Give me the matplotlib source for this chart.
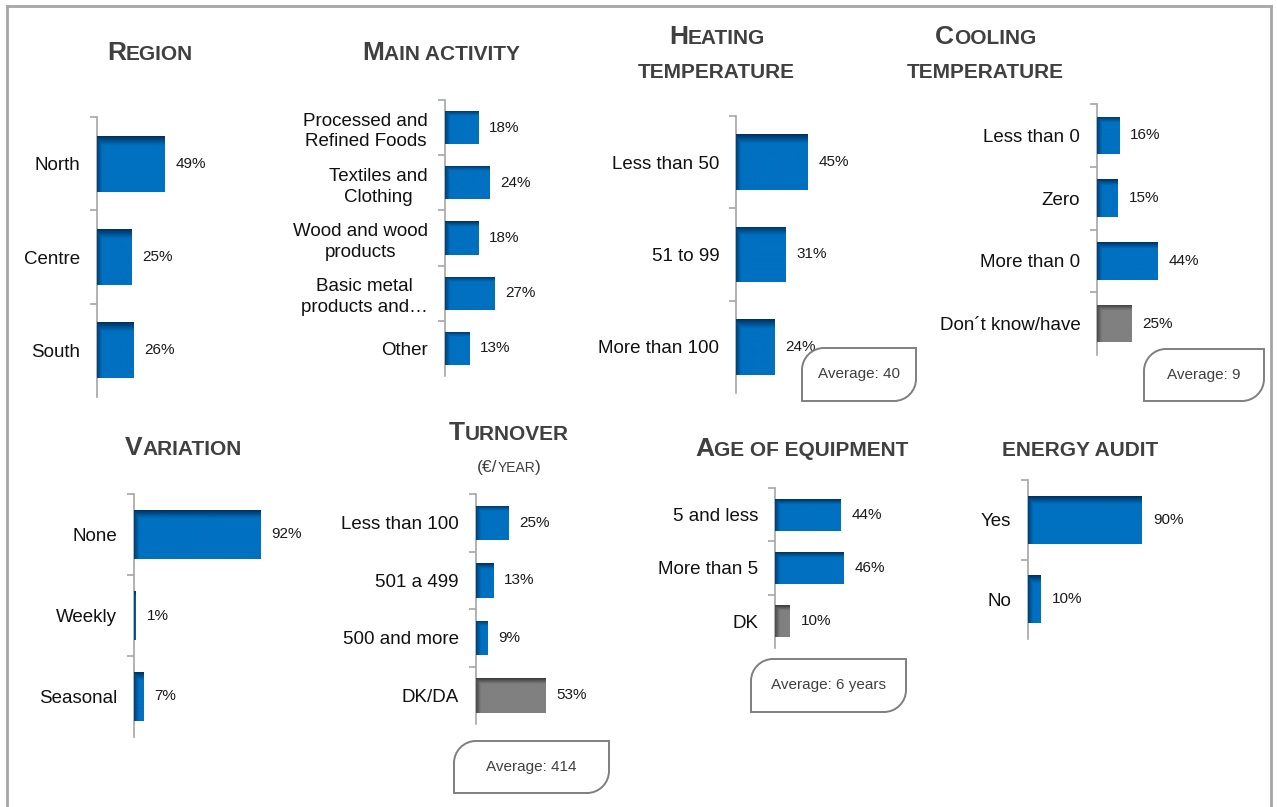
import numpy as np
import matplotlib
matplotlib.use('Agg')
import matplotlib.pyplot as plt
from matplotlib import font_manager
from matplotlib.colors import to_rgb
from matplotlib.lines import Line2D
from matplotlib.offsetbox import TextArea, HPacker, AnnotationBbox
from matplotlib.patches import PathPatch
from matplotlib.path import Path

W, H = 1277, 807

# survey results (% of respondents)
region_labels = ['North', 'Centre', 'South']
region_values = [49, 25, 26]

activity_labels = ['Processed and\nRefined Foods', 'Textiles and\nClothing',
                   'Wood and wood\nproducts', 'Basic metal\nproducts and…', 'Other']
activity_values = [18, 24, 18, 27, 13]

heating_labels = ['Less than 50', '51 to 99', 'More than 100']
heating_values = [45, 31, 24]

cooling_labels = ['Less than 0', 'Zero', 'More than 0', 'Don´t know/have']
cooling_values = [16, 15, 44, 25]

variation_labels = ['None', 'Weekly', 'Seasonal']
variation_values = [92, 1, 7]

turnover_labels = ['Less than 100', '501 a 499', '500 and more', 'DK/DA']
turnover_values = [25, 13, 9, 53]

age_labels = ['5 and less', 'More than 5', 'DK']
age_values = [44, 46, 10]

audit_labels = ['Yes', 'No']
audit_values = [90, 10]

# "don't know" answers are drawn in grey
unknown_labels = ['Don´t know/have', 'DK/DA', 'DK']

heating_average = '40'
cooling_average = '9'
turnover_average = '414'
age_average = '6 years'

installed = {f.name for f in font_manager.fontManager.ttflist}
BODY = 'Liberation Sans' if 'Liberation Sans' in installed else 'DejaVu Sans'
plt.rcParams['font.family'] = [BODY, 'DejaVu Sans']

BLUE = '#0070C0'
BLUE_DARK = '#00325F'
GREY = '#808080'
GREY_DARK = '#3A3A3A'
AXIS = '#A6A6A6'
TITLE = '#404040'

fig = plt.figure(figsize=(W / 100, H / 100), dpi=100)


def fx(x):
    return x / W


def fy(y):
    return 1 - y / H


def shade(ax, bars, colors, px_per):
    # darker top and left edges like the Excel bevel
    for r, (base, dark) in zip(bars, colors):
        x0, y0, w, h = r.get_x(), r.get_y(), r.get_width(), r.get_height()
        nx, ny = 200, 60
        u = np.linspace(0, 1, nx)[None, :]
        v = np.linspace(0, 1, ny)[:, None]
        left = min(1.0, (5 / px_per) / max(w, 1e-6))
        t_top = np.clip(1 - v / 0.16, 0, 1)
        t_left = np.clip(1 - u / left, 0, 1)
        t = np.maximum(t_top, t_left * 0.8)[..., None]
        img = np.array(to_rgb(base)) * (1 - t) + np.array(to_rgb(dark)) * t
        im = ax.imshow(img, extent=(x0, x0 + w, y0 + h, y0), origin='upper',
                       aspect='auto', interpolation='bilinear', zorder=3)
        im.set_clip_path(r)


def panel(left, top, bottom, px_per, labels, values, width=190):
    ax = fig.add_axes([fx(left), fy(bottom), width / W, (bottom - top) / H])
    n = len(labels)
    y = np.arange(n)
    colors = [(GREY, GREY_DARK) if l in unknown_labels else (BLUE, BLUE_DARK) for l in labels]
    bars = ax.barh(y, values, height=0.6, color=[c[0] for c in colors], zorder=2)
    shade(ax, bars, colors, px_per)
    ax.bar_label(bars, labels=[f'{v}%' for v in values], padding=8,
                 fontsize=11, color='#1A1A1A')
    ax.set_xlim(0, width / px_per)
    ax.set_ylim(n - 0.5, -0.5)
    for s in ['top', 'right', 'bottom']:
        ax.spines[s].set_visible(False)
    ax.spines['left'].set_color(AXIS)
    ax.spines['left'].set_linewidth(1.2)
    ax.set_xticks([])
    # tick marks between categories (none at the very bottom)
    ax.set_yticks(np.arange(n) - 0.5)
    ax.set_yticklabels([])
    ax.tick_params(axis='y', which='major', length=5, width=1.2, color=AXIS, direction='out')
    ax.set_yticks(y, labels, minor=True)
    ax.tick_params(axis='y', which='minor', length=0, pad=12, labelsize=13.5, labelcolor='#111111')
    for t in ax.get_yticklabels(minor=True):
        t.set_multialignment('center')
        t.set_linespacing(1.3)
    ax.patch.set_visible(False)
    return ax


def smallcaps(text, big_first=True, big=19, small=15):
    parts = []
    if big_first:
        parts.append((text[0].upper(), big))
        text = text[1:]
    parts.append((text.upper(), small))
    return parts


def title(cx, cy, parts, weight='bold'):
    boxes = [TextArea(t, textprops=dict(fontsize=s, fontweight=weight, color=TITLE))
             for t, s in parts]
    pack = HPacker(children=boxes, align='baseline', pad=0, sep=0)
    ab = AnnotationBbox(pack, (fx(cx), fy(cy)), xycoords='figure fraction',
                        frameon=False, box_alignment=(0.5, 0.5), pad=0)
    fig.add_artist(ab)


def avg_box(x0, y0, x1, y1, value, r=22):
    k = 0.5523 * r
    pts = [(x0, y0 + r), (x0, y0 + r - k), (x0 + r - k, y0), (x0 + r, y0),
           (x1, y0), (x1, y1 - r), (x1, y1 - r + k), (x1 - r + k, y1), (x1 - r, y1),
           (x0, y1), (x0, y0 + r)]
    codes = [Path.MOVETO, Path.CURVE4, Path.CURVE4, Path.CURVE4,
             Path.LINETO, Path.LINETO, Path.CURVE4, Path.CURVE4, Path.CURVE4,
             Path.LINETO, Path.CLOSEPOLY]
    path = Path([(fx(a), fy(b)) for a, b in pts], codes)
    fig.add_artist(PathPatch(path, transform=fig.transFigure, fc='none',
                             ec='#7F7F7F', lw=1.4))
    fig.text(fx((x0 + x1) / 2), fy((y0 + y1) / 2), f'Average: {value}',
             ha='center', va='center', fontsize=11, color=TITLE)


# outer frame
frame = dict(color='#A6A6A6', lw=2)
fig.add_artist(Line2D([fx(7), fx(7)], [fy(6), 0], transform=fig.transFigure, **frame))
fig.add_artist(Line2D([fx(7), fx(1271)], [fy(6), fy(6)], transform=fig.transFigure, **frame))
fig.add_artist(Line2D([fx(1271), fx(1271)], [fy(6), 0], transform=fig.transFigure, **frame))

# top row
panel(97, 117, 397, 1.385, region_labels, region_values)
panel(444.5, 100, 376, 1.85, activity_labels, activity_values)
panel(736, 116, 393, 1.59, heating_labels, heating_values, width=150)
panel(1097, 104, 355, 1.38, cooling_labels, cooling_values, width=150)

# bottom row
panel(134, 494, 737, 1.375, variation_labels, variation_values)
panel(475.5, 494, 724, 1.31, turnover_labels, turnover_values)
panel(775, 488, 648, 1.5, age_labels, age_values)
panel(1028, 480, 639, 1.265, audit_labels, audit_values)

title(150, 53, smallcaps('Region'))
title(441, 53, smallcaps('Main activity'))
title(717, 37, smallcaps('Heating'))
title(716, 72, smallcaps('temperature', big_first=False))
title(986, 37, smallcaps('Cooling'))
title(985, 72, smallcaps('temperature', big_first=False))
title(183, 448, smallcaps('Variation'))
title(509, 433, smallcaps('Turnover'))
title(509, 467, [('(€/', 12.5), ('YEAR', 10), (')', 12.5)], weight='normal')
title(802, 449, smallcaps('Age of equipment'))
title(1080, 450, smallcaps('Energy audit', big_first=False))

avg_box(802, 348, 916, 401, heating_average)
avg_box(1144, 349, 1264, 401, cooling_average)
avg_box(454, 741, 609, 793, turnover_average)
avg_box(751, 659, 906, 712, age_average)

fig.savefig('out.png', dpi=100, facecolor='white')
